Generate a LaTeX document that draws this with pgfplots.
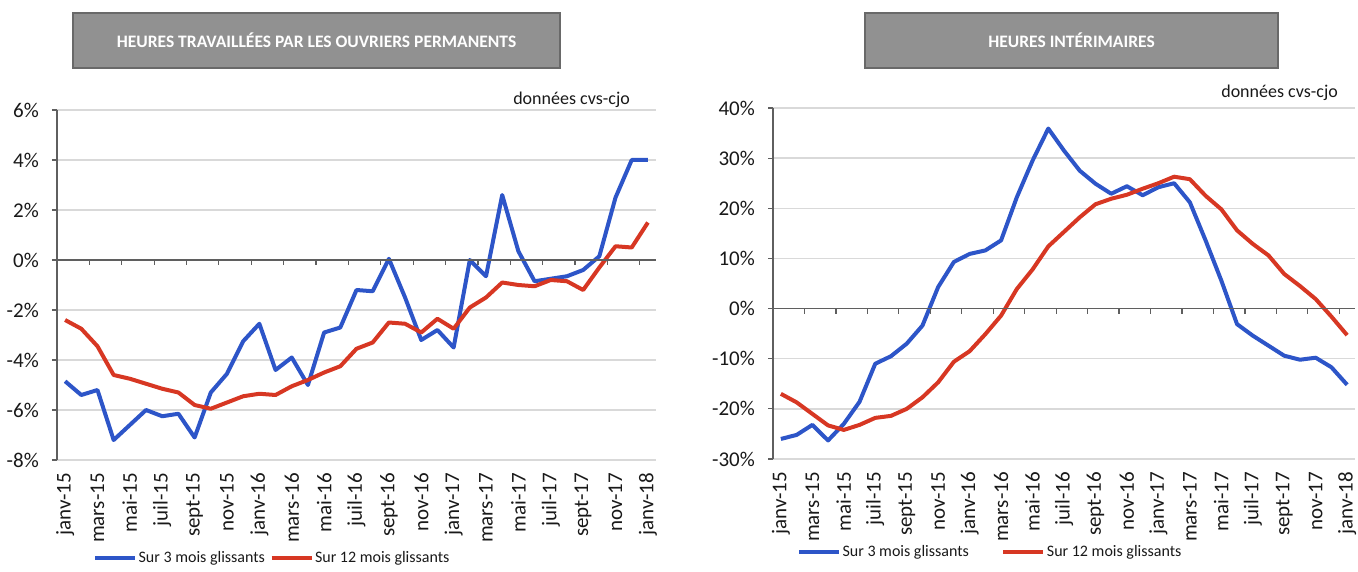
\documentclass[border=0pt]{standalone}
\usepackage{pgfplots}
\pgfplotsset{compat=1.18}
\usepackage{pgfplotstable}
\usepackage{fontspec}
\setmainfont{Carlito}
\definecolor{serblue}{RGB}{45,85,200}
\definecolor{serred}{RGB}{215,55,35}
\definecolor{axgray}{RGB}{95,95,95}
\definecolor{gridgray}{RGB}{217,217,217}
\definecolor{boxgray}{RGB}{145,145,145}
\definecolor{boxedge}{RGB}{105,105,105}

\pgfplotstableread{
i b r
0 -4.85 -2.4
1 -5.4 -2.75
2 -5.2 -3.45
3 -7.2 -4.6
4 -6.6 -4.75
5 -6.0 -4.95
6 -6.25 -5.15
7 -6.15 -5.3
8 -7.1 -5.8
9 -5.3 -5.95
10 -4.55 -5.7
11 -3.25 -5.45
12 -2.55 -5.35
13 -4.4 -5.4
14 -3.9 -5.05
15 -5.0 -4.8
16 -2.9 -4.5
17 -2.7 -4.25
18 -1.2 -3.55
19 -1.25 -3.3
20 0.05 -2.5
21 -1.5 -2.55
22 -3.2 -2.9
23 -2.8 -2.35
24 -3.5 -2.75
25 0.0 -1.9
26 -0.65 -1.5
27 2.6 -0.9
28 0.35 -1.0
29 -0.85 -1.05
30 -0.75 -0.8
31 -0.65 -0.85
32 -0.4 -1.2
33 0.15 -0.3
34 2.5 0.55
35 4.0 0.5
36 4.0 1.5
}\leftdata

\pgfplotstableread{
i b r
0 -26.0 -17.0
1 -25.2 -18.7
2 -23.2 -21.0
3 -26.3 -23.3
4 -23.0 -24.2
5 -18.6 -23.2
6 -11.0 -21.8
7 -9.5 -21.4
8 -7.0 -20.0
9 -3.4 -17.7
10 4.3 -14.7
11 9.3 -10.6
12 10.9 -8.5
13 11.6 -5.1
14 13.6 -1.4
15 22.2 3.9
16 29.5 7.8
17 35.9 12.4
18 31.5 15.3
19 27.5 18.2
20 24.9 20.8
21 22.9 21.9
22 24.4 22.7
23 22.6 23.9
24 24.2 25.0
25 25.0 26.3
26 21.2 25.8
27 13.6 22.5
28 5.6 19.8
29 -3.1 15.6
30 -5.4 12.9
31 -7.4 10.6
32 -9.4 6.9
33 -10.2 4.5
34 -9.8 1.9
35 -11.7 -1.6
36 -15.2 -5.3
}\rightdata

\pgfplotsset{
 mystyle/.style={
  scale only axis,
  xmin=-0.5, xmax=36.5,
  axis lines*=left,
  axis line style={-},
  x axis line style={draw=none},
  y axis line style={draw=axgray, line width=1.3pt},
  xtick={0,2,...,36},
  xticklabels={janv-15,mars-15,mai-15,juil-15,sept-15,nov-15,janv-16,mars-16,mai-16,juil-16,sept-16,nov-16,janv-17,mars-17,mai-17,juil-17,sept-17,nov-17,janv-18},
  xtick style={draw=none},
  ytick style={draw=axgray, line width=1.2pt},
  tick align=outside,
  major tick length=5pt,
  ymajorgrids,
  major grid style={gridgray, line width=1.3pt},
  tick label style={font=\fontsize{21}{23}\selectfont, text=black!90},
  xticklabel style={rotate=90, anchor=east, inner sep=0pt},
  xticklabel shift=8pt,
  yticklabel style={inner sep=0pt, anchor=east, xshift=-13pt},
  yticklabel={\pgfmathprintnumber[assume math mode=true]{\tick}\%},
  legend columns=2,
  legend style={draw=none, fill=none, inner sep=0pt, font=\fontsize{16}{18}\selectfont,
    nodes={inner sep=1.5pt, text=black!90}},
  legend image code/.code={\draw[#1] (0pt,0pt) -- (40pt,0pt);},
  clip=false,
 }
}

\begin{document}
\begin{tikzpicture}[x=1pt,y=1pt]
\path[use as bounding box] (0,0) rectangle (1358,571);

% Left panel
\begin{axis}[mystyle,
  at={(57pt,111pt)}, anchor=south west,
  width=599pt, height=350pt,
  ymin=-8, ymax=6, ytick={-8,-6,...,6},
  legend style={at={(0.06,-0.28)}, anchor=west,
    /tikz/every even column/.append style={column sep=3pt}},
]
\addplot[serblue, line width=4pt, line join=round] table[x=i, y=b] {\leftdata};
\addlegendentry{Sur 3 mois glissants}
\addplot[serred, line width=4pt, line join=round] table[x=i, y=r] {\leftdata};
\addlegendentry{Sur 12 mois glissants}
\draw[axgray, line width=1.3pt] (axis cs:-0.5,0) -- (axis cs:36.5,0);
\pgfplotsinvokeforeach{0,...,18}{\draw[axgray, line width=1.2pt] (axis cs:{-0.5+2*#1},0) -- ++(0pt,-5pt);}
\end{axis}

% Right panel
\begin{axis}[mystyle,
  at={(773pt,112pt)}, anchor=south west,
  width=582pt, height=351pt,
  ymin=-30, ymax=40, ytick={-30,-20,...,40},
  legend style={at={(0.041,-0.265)}, anchor=west,
    /tikz/every even column/.append style={column sep=31pt}},
]
\addplot[serblue, line width=4pt, line join=round] table[x=i, y=b] {\rightdata};
\addlegendentry{Sur 3 mois glissants}
\addplot[serred, line width=4pt, line join=round] table[x=i, y=r] {\rightdata};
\addlegendentry{Sur 12 mois glissants}
\draw[axgray, line width=1.3pt] (axis cs:-0.5,0) -- (axis cs:36.5,0);
\pgfplotsinvokeforeach{0,...,18}{\draw[axgray, line width=1.2pt] (axis cs:{-0.5+2*#1},0) -- ++(0pt,-5pt);}
\end{axis}

% Titles
\node[fill=boxgray, draw=boxedge, line width=2pt, minimum width=487pt, minimum height=55pt,
  text=white, font=\bfseries\fontsize{17.5}{20}\selectfont] at (316.5,530.5)
  {HEURES TRAVAILLÉES PAR LES OUVRIERS PERMANENTS};
\node[fill=boxgray, draw=boxedge, line width=2pt, minimum width=413pt, minimum height=55pt,
  text=white, font=\bfseries\fontsize{17.5}{20}\selectfont] at (1071.5,530.5)
  {HEURES INTÉRIMAIRES};

\node[anchor=east, inner sep=0pt, font=\fontsize{18}{20}\selectfont, text=black!90] at (630,471) {données cvs-cjo};
\node[anchor=east, inner sep=0pt, font=\fontsize{18}{20}\selectfont, text=black!90] at (1338,478) {données cvs-cjo};
\end{tikzpicture}
\end{document}
